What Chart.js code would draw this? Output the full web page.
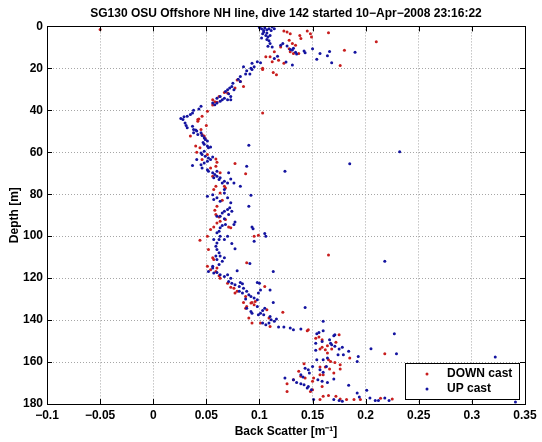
<!DOCTYPE html>
<html>
<head>
<meta charset="utf-8">
<title>SG130 back scatter profile</title>
<script src="https://cdn.jsdelivr.net/npm/chart.js@4/dist/chart.umd.min.js"></script>
<style>
  html, body { margin: 0; padding: 0; background: #fff; }
  #wrap { width: 542px; height: 442px; }
</style>
</head>
<body>
<div id="wrap"><canvas id="scatterChart"></canvas></div>
<script>
// Chart text
const chartTitle = "SG130 OSU Offshore NH line, dive 142 started 10\u2212Apr\u22122008 23:16:22";
const seriesNames = ["DOWN cast", "UP cast"];
const xLabel = "Back Scatter [m\u207B\u00B9]";
const yLabel = "Depth [m]";

// Tick values
const xTicks = [-0.1, -0.05, 0, 0.05, 0.1, 0.15, 0.2, 0.25, 0.3, 0.35];
const depthTicks = [0, 20, 40, 60, 80, 100, 120, 140, 160, 180];

// [back scatter, depth]
const downCast = [
  [-0.05,1.5],[0.123,2.2],[0.126,2.7],[0.129,3.5],[0.138,4.3],[0.139,5.8],[0.145,2.2],[0.148,3.5],[0.149,5.0],[0.165,3.0],
  [0.21,7.3],[0.128,6.6],[0.131,8.2],[0.134,9.0],[0.128,10.6],[0.129,12.1],[0.132,12.9],[0.137,12.9],[0.12,9.8],[0.114,12.1],
  [0.11,14.5],[0.106,14.5],[0.18,11.4],[0.176,18.6],[0.103,20.0],[0.112,16.9],[0.118,16.1],[0.123,17.6],[0.116,23.1],[0.113,22.0],
  [0.103,20.5],[0.085,28.7],[0.082,26.3],[0.079,25.5],[0.077,29.4],[0.07,31.8],[0.067,31.5],[0.062,33.4],[0.056,35.0],[0.058,35.9],
  [0.06,36.2],[0.056,37.5],[0.103,41.3],
  [0.051,40.5],[0.046,42.8],[0.042,44.4],[0.042,45.2],[0.043,44.1],[0.05,47.2],[0.045,49.1],[0.035,52.3],[0.046,51.5],[0.048,52.3],
  [0.049,53.5],[0.04,57.0],[0.044,57.8],
  [0.041,60.0],[0.046,63.5],[0.051,61.1],[0.059,63.2],[0.06,64.8],[0.059,66.7],[0.054,67.5],[0.056,71.4],[0.063,69.8],[0.077,65.4],
  [0.087,70.3],[0.067,76.2],
  [0.057,77.8],[0.059,76.2],[0.063,79.4],[0.065,82.9],[0.068,77.0],[0.06,85.7],[0.058,87.6],[0.059,89.7],[0.062,90.8],[0.068,92.1],
  [0.063,92.9],[0.06,93.7],[0.054,96.8],[0.057,95.6],[0.071,95.6],[0.073,96.0],[0.051,100.0],[0.044,101.9],[0.052,106.3],[0.056,110.3],
  [0.057,111.1],[0.051,114.3],[0.099,99.5],[0.095,100.0],[0.088,112.7],[0.165,109.0],
  [0.054,116.0],[0.059,116.8],[0.062,118.9],[0.063,120.0],[0.06,115.2],
  [0.07,122.4],[0.073,124.3],[0.076,124.8],[0.079,126.3],[0.077,127.1],[0.087,128.7],[0.085,131.6],[0.087,134.3],[0.088,133.5],[0.092,131.9],
  [0.093,131.6],[0.095,132.7],[0.096,131.1],[0.105,124.0],[0.107,135.1],[0.09,139.0],[0.093,141.4],[0.101,141.4],[0.11,143.0],[0.122,136.3],
  [0.145,145.1],[0.146,144.6],[0.109,139.0],
  [0.126,170.3],[0.126,174.0],[0.132,168.4],[0.137,164.4],[0.139,166.8],[0.143,167.6],[0.148,174.0],[0.15,173.2],[0.142,160.8],
  [0.153,148.6],[0.156,148.1],[0.159,149.4],[0.159,152.9],[0.157,153.8],[0.162,154.1],[0.164,152.2],[0.168,153.8],[0.175,147.0],[0.172,150.6],
  [0.164,155.7],[0.165,158.9],[0.167,159.7],[0.171,160.2],[0.176,161.3],[0.185,158.1],[0.157,162.4],[0.162,162.4],[0.157,166.0],[0.151,167.6],
  [0.15,169.2],[0.159,171.6],[0.157,177.9],[0.16,176.3],[0.165,176.0],[0.172,176.3],[0.176,177.6],[0.182,177.9],[0.189,177.9],[0.195,177.9],
  [0.214,177.3],[0.218,156.0],[0.225,177.6],[0.176,163.3],[0.17,165.2],[0.166,163.3],[0.16,166.0]
];

const upCast = [
  [0.102,1.1],[0.104,1.9],[0.107,1.6],[0.109,1.1],[0.111,1.9],[0.114,1.1],[0.103,3.5],[0.106,4.3],[0.108,5.0],[0.11,4.3],
  [0.107,6.3],[0.109,6.9],[0.11,8.2],[0.104,2.7],[0.107,3.1],[0.1,0.5],[0.112,0.3],[0.105,0.8],[0.102,5.5],[0.108,9.5],[0.112,9.8],
  [0.12,9.0],[0.122,8.2],[0.126,9.4],[0.129,11.0],[0.132,10.4],[0.131,11.3],[0.134,12.3],[0.135,13.2],[0.142,11.7],[0.143,12.6],
  [0.15,10.7],[0.154,15.6],[0.157,12.9],[0.164,14.0],[0.166,12.0],[0.168,17.3],[0.19,12.3],[0.131,18.4],[0.125,17.0],[0.114,15.3],[0.117,14.2],
  [0.101,17.3],[0.098,16.9],[0.093,17.6],[0.095,19.2],[0.092,20.0],[0.088,21.1],[0.087,22.7],[0.091,22.7],[0.093,20.5],[0.085,19.2],
  [0.082,23.9],[0.08,25.2],[0.082,26.3],[0.075,27.1],[0.074,28.7],[0.072,29.4],[0.07,30.2],[0.068,31.0],[0.071,32.1],[0.076,30.2],
  [0.073,33.4],[0.067,34.2],[0.065,35.0],[0.063,33.4],[0.06,34.2],[0.058,37.3],[0.056,36.5],[0.06,36.5],[0.063,35.7],[0.07,35.0],
  [0.073,35.0],[0.09,56.7],
  [0.045,38.1],[0.043,39.4],[0.038,40.0],[0.037,41.3],[0.035,42.0],[0.032,42.8],[0.029,43.1],[0.026,43.9],[0.028,44.4],[0.03,46.0],
  [0.031,47.2],[0.032,48.3],[0.037,47.6],[0.038,49.1],[0.04,49.4],[0.041,49.9],[0.038,50.7],[0.042,51.5],[0.045,50.7],[0.046,52.0],
  [0.048,53.1],[0.049,53.9],[0.051,54.6],[0.047,55.4],[0.048,56.2],[0.051,57.0],[0.052,57.8],[0.054,57.5],
  [0.048,59.5],[0.045,60.3],[0.046,61.1],[0.049,61.9],[0.052,62.7],[0.054,63.5],[0.056,62.2],[0.051,64.3],[0.048,65.1],[0.045,65.9],
  [0.046,67.5],[0.051,68.3],[0.052,69.0],[0.056,69.8],[0.058,70.6],[0.06,69.0],[0.06,71.4],[0.057,72.2],[0.062,73.0],[0.063,72.2],
  [0.067,73.8],[0.065,74.6],[0.07,74.6],[0.071,69.8],[0.073,72.7],[0.076,74.6],[0.082,76.2],[0.088,66.7],[0.037,66.3],[0.041,63.5],
  [0.124,69.0],[0.185,65.5],[0.232,59.7],
  [0.051,81.0],[0.056,80.2],[0.057,82.5],[0.06,81.7],[0.063,83.3],[0.067,79.4],[0.067,77.8],[0.07,81.7],[0.073,84.1],[0.072,86.5],
  [0.07,87.3],[0.067,88.1],[0.065,88.9],[0.06,90.5],[0.063,90.5],[0.067,91.7],[0.071,89.7],[0.074,88.1],[0.077,93.3],[0.076,94.4],
  [0.068,94.4],[0.065,94.9],[0.063,96.0],[0.062,97.6],[0.06,98.4],[0.063,100.0],[0.062,101.6],[0.06,103.2],[0.067,101.6],[0.07,100.0],
  [0.057,101.6],[0.059,104.8],[0.06,106.3],[0.062,107.9],[0.059,109.5],[0.06,111.1],[0.063,109.5],[0.067,110.3],[0.065,111.9],[0.062,113.5],
  [0.056,114.3],[0.074,103.5],[0.077,106.0],[0.09,85.7],[0.092,80.5],[0.093,95.6],[0.094,96.5],[0.105,98.7],[0.106,100.0],[0.095,102.4],
  [0.091,113.0],[0.218,112.0],
  [0.056,115.2],[0.052,116.8],[0.057,117.6],[0.06,117.3],[0.063,118.4],[0.067,119.2],[0.07,118.4],[0.073,120.0],[0.079,116.5],[0.113,116.8],
  [0.071,121.6],[0.074,122.4],[0.077,123.2],[0.081,124.0],[0.082,122.1],[0.084,122.7],[0.085,124.8],[0.081,126.3],[0.084,127.1],[0.088,126.3],
  [0.09,127.9],[0.092,128.7],[0.087,130.0],[0.095,129.5],[0.098,130.3],[0.099,127.1],[0.101,125.6],[0.1,122.4],[0.098,122.1],[0.11,125.6],
  [0.113,131.6],[0.105,134.3],[0.103,135.4],[0.101,136.7],[0.099,137.5],[0.104,137.5],[0.098,133.5],[0.092,135.9],[0.093,136.7],[0.088,134.3],
  [0.11,138.3],[0.111,139.8],[0.114,140.6],[0.109,141.4],[0.103,141.4],[0.106,142.2],[0.116,139.5],[0.118,143.3],[0.123,143.3],[0.129,143.8],
  [0.132,144.6],[0.139,144.3],[0.143,134.0],[0.16,140.6],
  [0.124,167.6],[0.132,168.4],[0.135,169.7],[0.139,170.3],[0.142,170.8],[0.145,172.4],[0.146,171.6],[0.143,162.9],[0.146,163.7],[0.147,165.2],
  [0.139,166.0],[0.141,167.1],
  [0.156,145.9],[0.154,146.5],[0.16,145.1],[0.153,151.0],[0.159,150.2],[0.166,149.4],[0.17,147.5],[0.171,147.0],[0.167,151.0],[0.168,151.7],
  [0.171,152.5],[0.178,152.9],[0.184,154.9],[0.175,153.8],[0.179,156.5],[0.174,156.5],[0.164,158.1],[0.16,158.9],[0.193,157.3],[0.192,159.7],
  [0.153,154.4],[0.154,158.9],[0.157,163.7],[0.16,164.9],[0.163,162.1],[0.15,162.1],[0.155,168.4],[0.159,169.2],[0.164,169.7],[0.17,168.1],
  [0.184,171.1],[0.149,173.2],[0.151,177.9],[0.17,177.9],[0.175,178.3],[0.178,178.7],[0.192,174.8],[0.194,176.7],[0.201,173.5],[0.204,177.1],
  [0.209,178.3],[0.212,178.3],[0.218,177.1],[0.222,178.3],[0.205,153.7],[0.229,156.0],[0.227,146.5],[0.322,157.6],[0.341,179.0]
];

const seriesColors = ["#c81e1e", "#1414a0"];
const FONT = "'Liberation Sans', Arial, Helvetica, sans-serif";

Chart.defaults.font.family = FONT;
Chart.defaults.color = "#000";

// MATLAB style numbers: 0.05, -0.1 with a real minus sign
const fmt = v => String(Math.round(v * 100) / 100).replace("-", "\u2212");

// Box with inward ticks on all four sides, plus the legend inside the axes
const matlabAxes = {
  id: "matlabAxes",
  afterDatasetsDraw(chart) {
    const ctx = chart.ctx;
    const a = chart.chartArea;
    const xs = chart.scales.x, ys = chart.scales.y;
    ctx.save();
    ctx.strokeStyle = "#000";
    ctx.lineWidth = 1;
    ctx.beginPath();
    xTicks.forEach(v => {
      const p = Math.round(xs.getPixelForValue(v)) + 0.5;
      ctx.moveTo(p, a.bottom); ctx.lineTo(p, a.bottom - 5);
      ctx.moveTo(p, a.top); ctx.lineTo(p, a.top + 5);
    });
    depthTicks.forEach(v => {
      const p = Math.round(ys.getPixelForValue(v)) + 0.5;
      ctx.moveTo(a.left, p); ctx.lineTo(a.left + 5, p);
      ctx.moveTo(a.right, p); ctx.lineTo(a.right - 5, p);
    });
    ctx.stroke();
    ctx.strokeRect(Math.round(a.left) + 0.5, Math.round(a.top) + 0.5,
                   Math.round(a.right - a.left), Math.round(a.bottom - a.top));

    // legend
    const w = 114, h = 36;
    const lx = Math.round(a.right) - 6 - w, ly = Math.round(a.bottom) - 5 - h;
    ctx.fillStyle = "#fff";
    ctx.fillRect(lx, ly, w, h);
    ctx.strokeRect(lx + 0.5, ly + 0.5, w, h);
    ctx.font = "bold 12px " + FONT;
    ctx.textBaseline = "middle";
    seriesNames.forEach((name, i) => {
      const yy = ly + 11 + i * 15;
      ctx.fillStyle = seriesColors[i];
      ctx.beginPath();
      ctx.arc(lx + 22, yy, 1.5, 0, Math.PI * 2);
      ctx.fill();
      ctx.fillStyle = "#000";
      ctx.fillText(name, lx + 42, yy);
    });
    ctx.restore();
  }
};

const ctx = document.getElementById("scatterChart").getContext("2d");
new Chart(ctx, {
  type: "scatter",
  data: {
    datasets: [
      {
        label: seriesNames[0],
        data: downCast.map(([x, y]) => ({ x, y })),
        backgroundColor: seriesColors[0],
        pointRadius: 1.5,
        pointBorderWidth: 0,
        pointHoverRadius: 1.5,
        order: 1
      },
      {
        label: seriesNames[1],
        data: upCast.map(([x, y]) => ({ x, y })),
        backgroundColor: seriesColors[1],
        pointRadius: 1.5,
        pointBorderWidth: 0,
        pointHoverRadius: 1.5,
        order: 0
      }
    ]
  },
  options: {
    responsive: true,
    maintainAspectRatio: false,
    animation: false,
    layout: { padding: { left: 0, right: 17, top: 0, bottom: 0 } },
    plugins: {
      legend: { display: false },
      tooltip: { enabled: false },
      title: {
        display: true,
        fullSize: false,   // centre over the axes, as MATLAB does
        text: chartTitle,
        color: "#000",
        font: { size: 12, weight: "bold" },
        padding: { top: 6, bottom: 6 }
      }
    },
    scales: {
      x: {
        type: "linear",
        position: "bottom",
        min: -0.1,
        max: 0.35,
        afterBuildTicks: s => { s.ticks = xTicks.map(v => ({ value: v })); },
        afterFit: s => { s.height = 38; },
        ticks: {
          callback: v => fmt(v),
          color: "#000",
          font: { size: 12, weight: "bold" },
          padding: 4,
          maxRotation: 0,
          autoSkip: false
        },
        grid: { color: "#a6a6a6", lineWidth: 1, drawTicks: false },
        border: { display: false, dash: [1, 2] },
        title: {
          display: true,
          text: xLabel,
          color: "#000",
          font: { size: 12, weight: "bold" },
          padding: { top: 0, bottom: 3 }
        }
      },
      y: {
        type: "linear",
        reverse: true,
        min: 0,
        max: 180,
        afterBuildTicks: s => { s.ticks = depthTicks.map(v => ({ value: v })); },
        afterFit: s => { s.width = 47; },
        ticks: {
          callback: v => fmt(v),
          color: "#000",
          font: { size: 12, weight: "bold" },
          padding: 4,
          autoSkip: false
        },
        grid: { color: "#a6a6a6", lineWidth: 1, drawTicks: false },
        border: { display: false, dash: [1, 2] },
        title: {
          display: true,
          text: yLabel,
          color: "#000",
          font: { size: 12, weight: "bold" },
          padding: { top: 7, bottom: 0 }
        }
      }
    }
  },
  plugins: [matlabAxes]
});
</script>
</body>
</html>
